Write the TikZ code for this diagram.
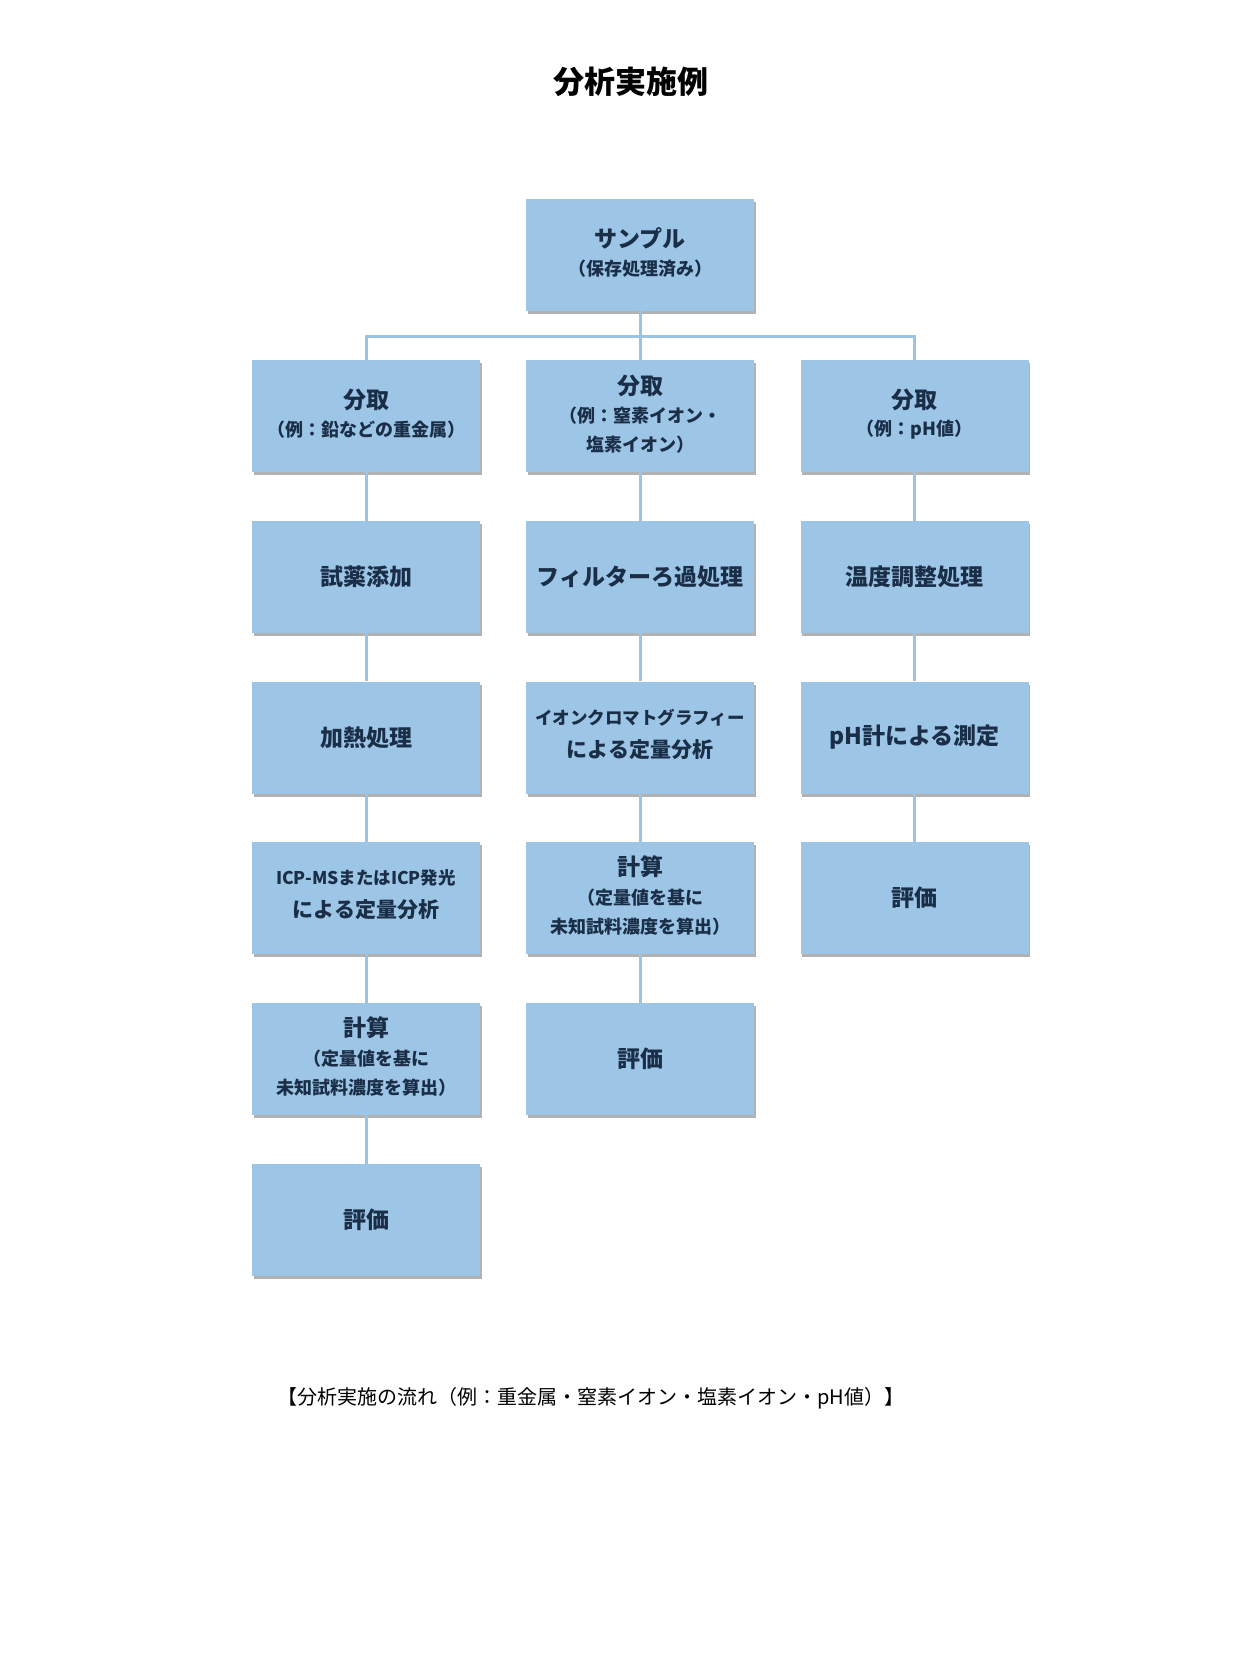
\documentclass[tikz,border=0pt]{standalone}
\usepackage{fontspec}
\setmainfont{Noto Sans CJK JP}
\usetikzlibrary{shadows}
\definecolor{boxfill}{RGB}{157,198,230}
\definecolor{linec}{RGB}{155,196,228}
\definecolor{txt}{RGB}{26,46,72}
\tikzset{
  box/.style={rectangle, fill=boxfill, minimum width=228pt, minimum height=112pt, inner sep=0pt,
    drop shadow={shadow xshift=1.5pt, shadow yshift=-3pt, opacity=0.4, fill=black!75}},
  conn/.style={draw=linec, line width=3pt},
  mt/.style={text=txt, font=\fontsize{23}{23}\selectfont\bfseries, inner sep=0pt},
  st/.style={text=txt, font=\fontsize{18}{18}\selectfont\bfseries, inner sep=0pt},
  mid/.style={text=txt, font=\fontsize{17.5}{17.5}\selectfont\bfseries, inner sep=0pt},
  big/.style={text=txt, font=\fontsize{21}{21}\selectfont\bfseries, inner sep=0pt},
}
\begin{document}
\begin{tikzpicture}[x=1pt, y=-1pt]
\useasboundingbox (0,0) rectangle (1260,1680);
\fill[white] (0,0) rectangle (1260,1680);

% title
\node[font=\fontsize{31}{31}\selectfont\bfseries, text=black] (title) at (631,82) {分析実施例};

% boxes
\node[box] (s)  at (640,255) {};
\node[box] (a1) at (366,416) {};
\node[box] (b1) at (640,416) {};
\node[box] (c1) at (914.5,416) {};
\node[box] (a2) at (366,577) {};
\node[box] (b2) at (640,577) {};
\node[box] (c2) at (914.5,577) {};
\node[box] (a3) at (366,737.5) {};
\node[box] (b3) at (640,737.5) {};
\node[box] (c3) at (914.5,737.5) {};
\node[box] (a4) at (366,898) {};
\node[box] (b4) at (640,898) {};
\node[box] (c4) at (914.5,898) {};
\node[box] (a5) at (366,1059) {};
\node[box] (b5) at (640,1059) {};
\node[box] (a6) at (366,1220) {};

% connectors
\coordinate (j) at (640,336);
\draw[conn] (s.south) -- (j);
\draw[conn] (a1.north) -- (a1.north |- j) -- (c1.north |- j) -- (c1.north);
\draw[conn] (j) -- (b1.north);
\draw[conn] (a1.south) -- (a2.north);
\draw[conn] (a2.south) -- (a3.north);
\draw[conn] (a3.south) -- (a4.north);
\draw[conn] (a4.south) -- (a5.north);
\draw[conn] (a5.south) -- (a6.north);
\draw[conn] (b1.south) -- (b2.north);
\draw[conn] (b2.south) -- (b3.north);
\draw[conn] (b3.south) -- (b4.north);
\draw[conn] (b4.south) -- (b5.north);
\draw[conn] (c1.south) -- (c2.north);
\draw[conn] (c2.south) -- (c3.north);
\draw[conn] (c3.south) -- (c4.north);

% texts
\node[mt] (st1) at ([yshift=17pt]s.center) {サンプル};
\node[st] (st2) at ([yshift=-14pt]s.center) {（保存処理済み）};

\node[mt] (a1t1) at ([yshift=16.5pt]a1.center) {分取};
\node[st] (a1t2) at ([yshift=-13.5pt]a1.center) {（例：鉛などの重金属）};

\node[mt] (b1t1) at ([yshift=30pt]b1.center) {分取};
\node[st] (b1t2) at (b1.center) {（例：窒素イオン・};
\node[st] (b1t3) at ([yshift=-29pt]b1.center) {塩素イオン）};

\node[mt] (c1t1) at ([yshift=16.5pt]c1.center) {分取};
\node[st] (c1t2) at ([yshift=-13.5pt]c1.center) {（例：pH値）};

\node[mt] (a2t) at (a2.center) {試薬添加};
\node[mt] (b2t) at (b2.center) {フィルターろ過処理};
\node[mt] (c2t) at (c2.center) {温度調整処理};

\node[mt] (a3t) at (a3.center) {加熱処理};
\node[mid] (b3t1) at ([yshift=19.5pt]b3.center) {イオンクロマトグラフィー};
\node[big] (b3t2) at ([yshift=-12.5pt]b3.center) {による定量分析};
\node[mt] (c3t) at (c3.center) {pH計による測定};

\node[mid] (a4t1) at ([yshift=20pt]a4.center) {ICP-MSまたはICP発光};
\node[big] (a4t2) at ([yshift=-11.5pt]a4.center) {による定量分析};
\node[mt] (b4t1) at ([yshift=31.5pt]b4.center) {計算};
\node[st] (b4t2) at ([yshift=0.5pt]b4.center) {（定量値を基に};
\node[st] (b4t3) at ([yshift=-28.5pt]b4.center) {未知試料濃度を算出）};
\node[mt] (c4t) at (c4.center) {評価};

\node[mt] (a5t1) at ([yshift=31.5pt]a5.center) {計算};
\node[st] (a5t2) at ([yshift=0.5pt]a5.center) {（定量値を基に};
\node[st] (a5t3) at ([yshift=-28.5pt]a5.center) {未知試料濃度を算出）};
\node[mt] (b5t) at (b5.center) {評価};

\node[mt] (a6t) at (a6.center) {評価};

% caption
\node[font=\fontsize{20}{20}\selectfont, text=black] (cap) at (591,1398) {【分析実施の流れ（例：重金属・窒素イオン・塩素イオン・pH値）】};
\end{tikzpicture}
\end{document}
